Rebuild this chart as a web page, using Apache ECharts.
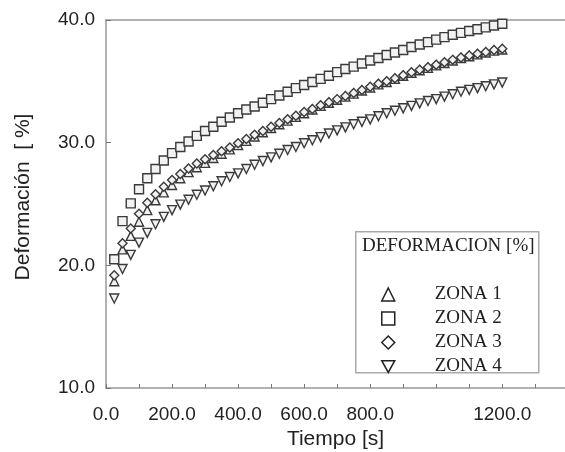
<!DOCTYPE html>
<html>
<head>
<meta charset="utf-8">
<script src="https://cdn.jsdelivr.net/npm/echarts@6/dist/echarts.min.js"></script>
<style>
  html, body { margin: 0; padding: 0; background: #fff; }
  #main { width: 565px; height: 452px; }
</style>
</head>
<body>
<div id="main"></div>
<script>
// tiempo [s]
var tiempo = [25, 50, 75, 100, 125, 150, 175, 200, 225, 250, 275, 300,
  325, 350, 375, 400, 425, 450, 475, 500, 525, 550, 575, 600,
  625, 650, 675, 700, 725, 750, 775, 800, 825, 850, 875, 900,
  925, 950, 975, 1000, 1025, 1050, 1075, 1100, 1125, 1150, 1175, 1200];

var zona1 = [18.7, 21.3, 22.4, 23.55, 24.5, 25.3, 25.95, 26.55, 27.1, 27.6, 28.0, 28.35,
  28.75, 29.1, 29.45, 29.8, 30.15, 30.5, 30.85, 31.2, 31.5, 31.8, 32.1, 32.4,
  32.7, 33.0, 33.25, 33.5, 33.75, 34.0, 34.25, 34.5, 34.75, 34.95, 35.2, 35.45,
  35.7, 35.9, 36.1, 36.3, 36.5, 36.7, 36.9, 37.05, 37.2, 37.35, 37.5, 37.6];

var zona2 = [20.5, 23.6, 25.05, 26.2, 27.1, 27.85, 28.55, 29.15, 29.65, 30.1, 30.55, 30.95,
  31.3, 31.7, 32.05, 32.4, 32.7, 32.95, 33.25, 33.55, 33.85, 34.15, 34.45, 34.7,
  34.95, 35.2, 35.45, 35.75, 36.0, 36.2, 36.45, 36.7, 36.9, 37.15, 37.35, 37.55,
  37.8, 38.0, 38.2, 38.4, 38.6, 38.8, 38.95, 39.1, 39.25, 39.4, 39.55, 39.7];

var zona3 = [19.2, 21.8, 23.0, 24.2, 25.1, 25.8, 26.4, 26.95, 27.45, 27.9, 28.3, 28.65,
  29.0, 29.3, 29.6, 29.95, 30.3, 30.65, 30.95, 31.3, 31.6, 31.9, 32.2, 32.5,
  32.75, 33.05, 33.3, 33.55, 33.8, 34.05, 34.3, 34.55, 34.8, 35.0, 35.25, 35.5,
  35.75, 35.95, 36.15, 36.35, 36.55, 36.75, 36.95, 37.1, 37.25, 37.4, 37.55, 37.65];

var zona4 = [17.3, 19.7, 20.85, 21.85, 22.65, 23.35, 23.95, 24.5, 24.95, 25.35, 25.75, 26.1,
  26.45, 26.85, 27.2, 27.5, 27.85, 28.2, 28.5, 28.8, 29.1, 29.4, 29.65, 29.95,
  30.2, 30.45, 30.75, 31.0, 31.25, 31.5, 31.7, 31.9, 32.15, 32.4, 32.6, 32.8,
  33.0, 33.2, 33.4, 33.55, 33.75, 33.95, 34.15, 34.3, 34.45, 34.6, 34.75, 34.9];

var nombres = ['ZONA 1', 'ZONA 2', 'ZONA 3', 'ZONA 4'];
var simbolos = ['triangle', 'rect', 'diamond', 'path://M0,0L10,0L5,9Z'];
var xEtiquetas = [0, 200, 400, 600, 800, 1200];

var myChart = echarts.init(document.getElementById('main'));

function pares(vals) {
  return tiempo.map(function (t, i) { return [t, vals[i]]; });
}

var datos = [zona1, zona2, zona3, zona4];
var series = datos.map(function (vals, k) {
  return {
    name: nombres[k],
    type: 'scatter',
    symbol: simbolos[k],
    symbolSize: 9,
    itemStyle: { color: '#f2f2f2', borderColor: '#3a3a3a', borderWidth: 1.4, opacity: 1 },
    data: pares(vals),
    z: 3
  };
});

var font = '"Liberation Sans", Arial, sans-serif';
var serif = '"Liberation Serif", "Times New Roman", serif';

option = {
  backgroundColor: '#fff',
  animation: false,
  grid: { left: 106, top: 20, right: 0, bottom: 64, outerBoundsMode: 'none', containLabel: false },
  xAxis: [{
    type: 'value',
    min: 0,
    max: 1390,
    interval: 100,
    name: 'Tiempo [s]',
    nameLocation: 'middle',
    nameGap: 40,
    nameTextStyle: { fontFamily: font, fontSize: 21, color: '#222' },
    splitLine: { show: false },
    axisLine: { lineStyle: { color: '#999', width: 1.5 } },
    axisTick: { inside: true, length: 4, lineStyle: { color: '#777' } },
    axisLabel: {
      showMaxLabel: false,
      margin: 17,
      fontFamily: font,
      fontSize: 19,
      color: '#222',
      formatter: function (v) {
        return xEtiquetas.indexOf(v) >= 0 ? v.toFixed(1) : '';
      }
    }
  }, {
    type: 'value',
    position: 'top',
    min: 0,
    max: 1390,
    axisLine: { show: true, lineStyle: { color: '#999', width: 1.5 } },
    axisTick: { show: false },
    axisLabel: { show: false },
    splitLine: { show: false }
  }],
  yAxis: {
    type: 'value',
    min: 10,
    max: 40,
    interval: 10,
    name: 'Deformación  [ %]',
    nameLocation: 'middle',
    nameGap: 72,
    nameTextStyle: { fontFamily: font, fontSize: 21, color: '#222', padding: [0, 0, 0, 14] },
    splitLine: { show: false },
    axisLine: { show: true, lineStyle: { color: '#999', width: 1.5 } },
    axisTick: { inside: true, length: 5, lineStyle: { color: '#777' } },
    axisLabel: {
      margin: 11,
      fontFamily: font,
      fontSize: 19,
      color: '#222',
      formatter: function (v) { return v.toFixed(1); }
    }
  },
  legend: {
    data: nombres,
    orient: 'vertical',
    left: 381,
    top: 285,
    itemWidth: 13,
    itemHeight: 13,
    itemGap: 5,
    padding: 0,
    itemStyle: { color: '#fff', borderColor: '#222', borderWidth: 1.5 },
    textStyle: {
      fontFamily: serif,
      fontSize: 19,
      color: '#222',
      padding: [0, 0, 0, 35]
    }
  },
  graphic: [{
    type: 'rect',
    left: 355,
    top: 231,
    shape: { width: 183, height: 141 },
    style: { fill: '#fff', stroke: '#aaa', lineWidth: 1.5 },
    z: 1
  }, {
    type: 'text',
    left: 362,
    top: 237,
    style: {
      text: 'DEFORMACION [%]',
      font: '19px ' + serif,
      fill: '#222'
    },
    z: 2
  }],
  series: series
};

myChart.setOption(option);
</script>
</body>
</html>
